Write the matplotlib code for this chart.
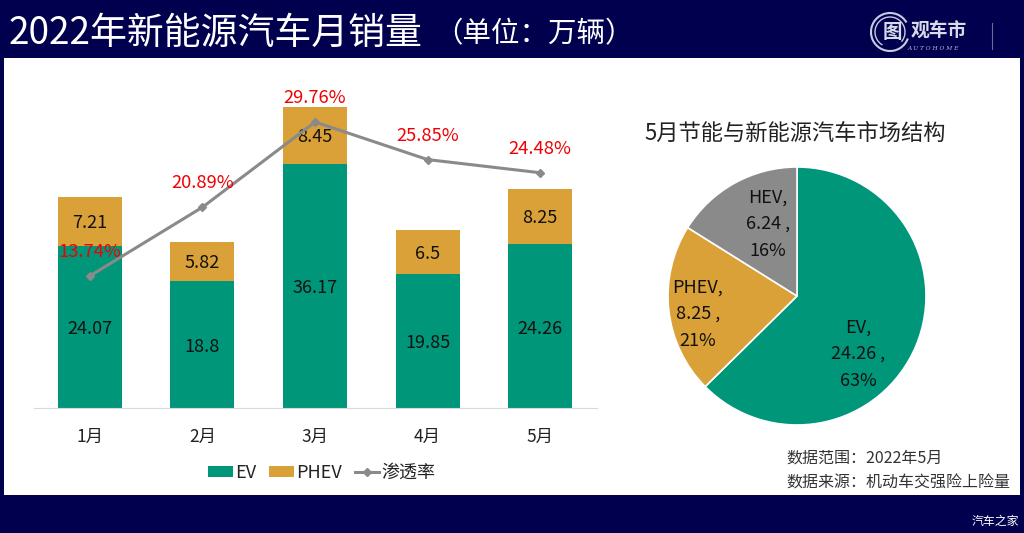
import matplotlib
matplotlib.use('Agg')
import matplotlib.pyplot as plt
from matplotlib.patches import Rectangle, Circle, Arc

plt.rcParams['font.family'] = ['Noto Sans CJK SC', 'DejaVu Sans']

months = ['1月', '2月', '3月', '4月', '5月']
ev = [24.07, 18.8, 36.17, 19.85, 24.26]
phev = [7.21, 5.82, 8.45, 6.5, 8.25]
ev_labels = ['24.07', '18.8', '36.17', '19.85', '24.26']
phev_labels = ['7.21', '5.82', '8.45', '6.5', '8.25']
share = [13.74, 20.89, 29.76, 25.85, 24.48]
pie_names = ['EV', 'PHEV', 'HEV']
pie_values = [24.26, 8.25, 6.24]
pie_labels = ['EV,\n24.26 ,\n63%', 'PHEV,\n8.25 ,\n21%', 'HEV,\n6.24 ,\n16%']

NAVY = '#00004F'
GREEN = '#00967A'
GOLD = '#D9A137'
GREY = '#8A8A8A'
W, H = 1024, 533
fig = plt.figure(figsize=(W/100, H/100), dpi=100, facecolor=NAVY)

def rect(l, t, r, b):
    return [l/W, 1-b/H, (r-l)/W, (b-t)/H]

# canvas in pixel coordinates
bg = fig.add_axes([0, 0, 1, 1], zorder=0)
bg.set_xlim(0, W); bg.set_ylim(H, 0); bg.axis('off')
bg.add_patch(Rectangle((4, 58), 1016, 437, fc='white', ec='none'))
bg.text(9, 33, '2022年新能源汽车月销量', color='white', fontsize=26.6, va='center', ha='left')
bg.text(434, 34, '（单位：万辆）', color='white', fontsize=20.5, va='center', ha='left')
# logo
bg.add_patch(Arc((890, 32), 38, 38, theta1=20, theta2=330, ec='#C9CBE0', lw=1.5))
bg.add_patch(Arc((890, 32), 30, 30, theta1=120, theta2=400, ec='#C9CBE0', lw=1.0))
bg.text(892, 32, '图', color='#D8DAEA', fontsize=14, fontweight='bold', ha='center', va='center')
bg.text(939, 31, '观车市', color='#D8DAEA', fontsize=13.5, fontweight='bold', ha='center', va='center')
bg.text(933, 49, 'A U T O H O M E', color='#B8BAD2', fontsize=4.2, style='italic', ha='center', va='center', family='DejaVu Serif')
bg.plot([992, 992], [23, 49], color='#6A6C95', lw=0.8)

bg.text(786, 458, '数据范围：2022年5月', color='#333333', fontsize=11.5, va='center', ha='left')
bg.text(786, 483, '数据来源：机动车交强险上险量', color='#333333', fontsize=11.5, va='center', ha='left')
bg.text(972, 521, '汽车之家', color='white', fontsize=8.6, va='center', ha='left')
bg.text(644, 133, '5月节能与新能源汽车市场结构', color='#222222', fontsize=16, va='center', ha='left')

# bars
ax = fig.add_axes(rect(33.5, 70, 596.5, 408), zorder=1)
ax.patch.set_alpha(0)
x = list(range(len(months)))
ax.bar(x, ev, width=0.57, color=GREEN, label='EV')
ax.bar(x, phev, width=0.57, bottom=ev, color=GOLD, label='PHEV')
ax.set_xlim(-0.5, 4.5)
ax.set_ylim(0, 338/6.74)
ax.set_yticks([])
ax.set_xticks(x, months, fontsize=12.5, color='#222222')
ax.tick_params(axis='x', length=0, pad=14)
for s in ['top', 'left', 'right']:
    ax.spines[s].set_visible(False)
ax.spines['bottom'].set_color('#D9D9D9')
for i in x:
    ax.text(i, ev[i]/2 - 0.35, ev_labels[i], ha='center', va='center', fontsize=13, color='#111111')
    ax.text(i, ev[i] + phev[i]/2 - 0.2, phev_labels[i], ha='center', va='center', fontsize=13, color='#111111')

# penetration line
ax2 = ax.twinx()
ax2.patch.set_alpha(0)
ax2.set_ylim(0, 338/9.61)
ax2.axis('off')
ax2.plot(x, share, color=GREY, lw=2.2, marker='D', ms=4, label='渗透率')
for i in x:
    ax2.annotate(f'{share[i]:.2f}%', (i, share[i]), xytext=(0, 24), textcoords='offset pixels',
                 ha='center', va='center', color='#F00000', fontsize=13.2)

# legend
h1, l1 = ax.get_legend_handles_labels()
h2, l2 = ax2.get_legend_handles_labels()
leg = bg.legend(h1 + h2, l1 + l2, loc='center', bbox_to_anchor=(322, 473), bbox_transform=bg.transData,
                ncol=3, frameon=False, fontsize=13, handlelength=1.35, handleheight=0.6,
                columnspacing=0.7, handletextpad=0.15, labelcolor='#222222')

# pie
pa = fig.add_axes(rect(797-129, 296-129, 797+129, 296+129), zorder=1)
wedges, _ = pa.pie(pie_values, colors=[GREEN, GOLD, GREY], startangle=90, counterclock=False, radius=1,
                   wedgeprops=dict(edgecolor='white', linewidth=1.2))
pa.set_xlim(-1, 1); pa.set_ylim(-1, 1)
for (px, py), t in zip([(858, 354), (698, 314), (768, 224)], pie_labels):
    fig.text(px/W, 1-py/H, t, ha='center', va='center', fontsize=13, color='#111111', linespacing=1.63, zorder=5)

fig.savefig('out.png', dpi=100, facecolor=NAVY)
